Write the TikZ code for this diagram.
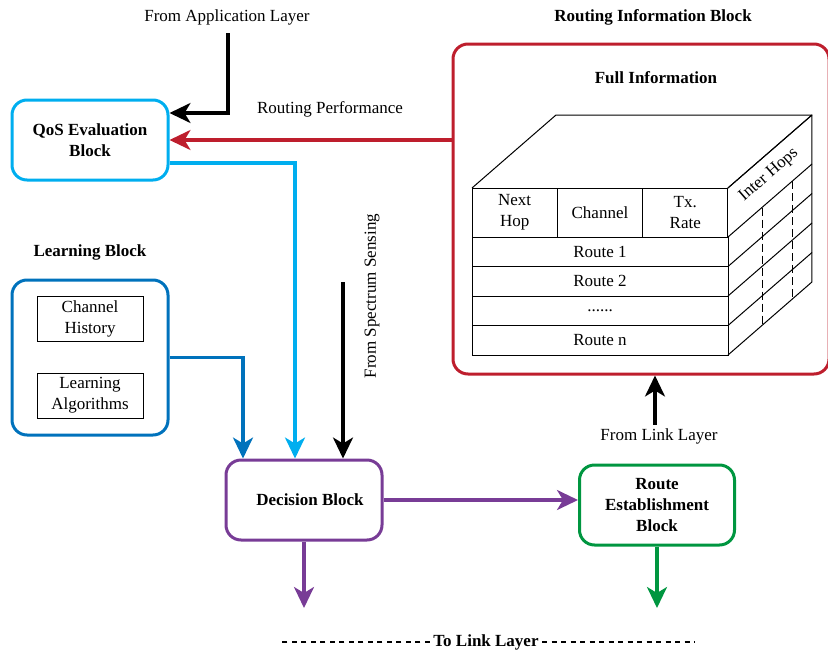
\documentclass[tikz,border=0pt]{standalone}
\usepackage{fontspec}
\setmainfont{Liberation Serif}
\usetikzlibrary{arrows.meta,positioning}
\definecolor{qoscyan}{RGB}{0,174,239}
\definecolor{learnblue}{RGB}{0,114,188}
\definecolor{ribred}{RGB}{190,30,45}
\definecolor{decpurple}{RGB}{120,60,150}
\definecolor{estgreen}{RGB}{0,150,64}
\newcommand{\diagfont}{\fontsize{17}{21}\selectfont}
\tikzset{
  block/.style={draw, rounded corners=15pt, line width=3pt, minimum width=156pt, minimum height=80pt, align=center, font=\diagfont\bfseries},
  cell/.style={draw, line width=1pt, inner sep=0pt, outer sep=0pt, align=center},
  headcell/.style={cell, minimum width=85.3pt, minimum height=49pt},
  routerow/.style={cell, minimum width=256pt, minimum height=29.5pt},
  heading/.style={font=\diagfont\bfseries},
  flow/.style={-{Stealth[length=21pt,width=20pt,inset=6pt]}, line width=3.1pt},
  linkdash/.style={line width=1.5pt, dash pattern=on 5pt off 4.5pt},
}

\begin{document}
\begin{tikzpicture}[x=1pt, y=-1pt, font=\diagfont]
  \useasboundingbox (0,0) rectangle (828,651);
  % blocks
  \node (qos) [block, draw=qoscyan] at (90,140) {QoS Evaluation\\Block};
  \node (learn) [block, draw=learnblue, minimum height=155pt] at (90,357.5) {};
  \node (history) [cell, minimum width=106pt, minimum height=45pt] at (90,318.5) {Channel\\History};
  \node (algo) [cell, minimum width=106pt, minimum height=45pt] at (90,395.5) {Learning\\Algorithms};
  \node (learntitle) [heading] at (90,252) {Learning Block};
  \node (decide) [block, draw=decpurple] at (304,500) {\hspace*{12pt}Decision Block};
  \node (route) [block, draw=estgreen, minimum width=155pt] at (657,505) {Route\\Establishment\\Block};
  \node (rib) [block, draw=ribred, minimum width=376pt, minimum height=330pt] at (641,209) {};
  \node (ribtitle) [heading] at (653,17) {Routing Information Block};
  \node (fullinfo) [heading] at (656,78) {Full Information};

  % table cube
  \node (nexthop) [headcell, anchor=north west] at (472,188) {Next\\Hop};
  \node (channel) [headcell, right=0pt of nexthop] {Channel};
  \node (txrate) [headcell, right=0pt of channel] {Tx.\\Rate};
  \node (route1) [routerow, anchor=north west] at (nexthop.south west) {Route 1};
  \node (route2) [routerow, below=0pt of route1] {Route 2};
  \node (dots) [routerow, below=0pt of route2] {......};
  \node (routen) [routerow, below=0pt of dots] {Route n};
  \draw[line width=1pt, line join=round] (nexthop.north west) -- ++(84,-73) -- ++(256,0) -- (txrate.north east);
  \draw[line width=1pt, line join=round] (txrate.north east) -- ++(84,-73) -- ++(0,167) -- (routen.south east);
  \foreach \r in {route1,route2,dots,routen}
    \draw[line width=1pt] (\r.north east) -- ++(84,-73);
  \draw[line width=1pt, dash pattern=on 8pt off 4pt] ([shift={(34,-29.5)}]route1.north east) -- ([shift={(34,-29.5)}]routen.south east);
  \draw[line width=1pt, dash pattern=on 8pt off 4pt] ([shift={(64,-55.6)}]route1.north east) -- ([shift={(64,-55.6)}]routen.south east);
  \node (interhops) [rotate=41, inner sep=1pt] at (769,175) {Inter Hops};

  % inputs and labels
  \node (appl) at (227,17) {From Application Layer};
  \coordinate (applin) at (228,33);
  \node (perf) at (330,109) {Routing Performance};
  \node (spectrum) [rotate=90] at (372,296) {From Spectrum Sensing};
  \coordinate (specin) at (343,282);
  \node (linkin) at (659,436) {From Link Layer};
  \coordinate (decout) at (303,608);
  \coordinate (routeout) at (657,608);
  \node (tolink) [heading] at (486,642) {To Link Layer};
  \coordinate (dashleft) at (280,642);
  \coordinate (dashright) at (695,642);

  % connectors
  \draw[flow] (applin) |- ([yshift=27pt]qos.east);
  \draw[flow, color=ribred] (rib.west |- qos.east) -- (qos.east);
  \draw[flow, color=qoscyan] ([yshift=-23pt]qos.east) -| ([xshift=-9pt]decide.north);
  \draw[flow, color=learnblue] (learn.east) -| ([xshift=-61pt]decide.north);
  \draw[flow] (specin) -- (specin |- decide.north);
  \draw[flow, color=decpurple] (decide.south) -- (decide.south |- decout);
  \draw[flow, color=decpurple] (decide.east) -- (decide.east -| route.west);
  \draw[flow, color=estgreen] (route.south) -- (route.south |- routeout);
  \draw[flow] ([xshift=-4pt]linkin.north) -- ([xshift=-4pt]linkin.north |- rib.south);
  \draw[linkdash] (tolink.west) -- (dashleft);
  \draw[linkdash] (tolink.east) -- (dashright);
\end{tikzpicture}
\end{document}
